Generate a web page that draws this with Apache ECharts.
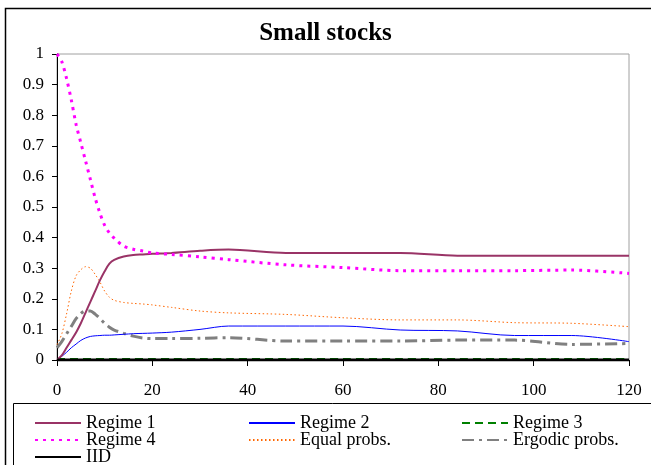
<!DOCTYPE html>
<html><head><meta charset="utf-8">
<script src="https://cdn.jsdelivr.net/npm/echarts@6/dist/echarts.min.js"></script>
<style>html,body{margin:0;padding:0;background:#fff}#c{width:651px;height:465px}</style>
</head><body><div id="c"></div>
<script>
var xs       = [0,1,2,3,4,5,6,7,8,9,10,11,12,14,16,18,20,24,30,36,48,60,72,84,96,108,120];
var regime1  = [0,0.015,0.04,0.065,0.09,0.12,0.155,0.19,0.225,0.26,0.29,0.315,0.327,0.338,0.343,0.345,0.347,0.35,0.357,0.361,0.35,0.35,0.35,0.341,0.341,0.341,0.341];
var regime2  = [0,0.012,0.025,0.04,0.052,0.064,0.072,0.077,0.079,0.08,0.081,0.081,0.082,0.084,0.086,0.087,0.088,0.091,0.1,0.111,0.111,0.111,0.098,0.095,0.08,0.08,0.06];
var regime3  = [0.003,0.003,0.003,0.003,0.003,0.003,0.003,0.003,0.003,0.003,0.003,0.003,0.003,0.003,0.003,0.003,0.003,0.003,0.003,0.003,0.003,0.003,0.003,0.003,0.003,0.003,0.003];
var regime4  = [1.0,0.975,0.92,0.85,0.77,0.71,0.65,0.59,0.53,0.48,0.44,0.415,0.398,0.372,0.362,0.356,0.35,0.345,0.337,0.328,0.311,0.302,0.292,0.292,0.292,0.294,0.283];
var equalP   = [0.05,0.085,0.15,0.225,0.275,0.295,0.305,0.3,0.28,0.255,0.225,0.205,0.195,0.188,0.185,0.183,0.18,0.172,0.16,0.154,0.149,0.138,0.131,0.131,0.122,0.12,0.109];
var ergodicP = [0.04,0.06,0.085,0.11,0.135,0.152,0.16,0.16,0.15,0.136,0.12,0.107,0.098,0.087,0.078,0.072,0.07,0.07,0.071,0.073,0.062,0.062,0.062,0.065,0.065,0.051,0.054];
var iid      = [0,0,0,0,0,0,0,0,0,0,0,0,0,0,0,0,0,0,0,0,0,0,0,0,0,0,0];
var title = 'Small stocks';

function pts(v){ return xs.map(function(x,i){ return [x, v[i]]; }); }
var F = '"Liberation Serif", "DejaVu Serif", serif';
function mk(name, data, color, width, type, z){
  return {name:name, type:'line', data:pts(data), symbol:'none', smooth:0.3, z:z||2,
    lineStyle:{color:color, width:width, type:type}, itemStyle:{color:color}};
}
var series = [
  mk('Regime 1', regime1, '#993366', 2, 'solid', 5),
  mk('Regime 2', regime2, '#0000FF', 1, 'solid', 4),
  mk('Regime 3', regime3, '#008000', 2, [8,5], 3),
  mk('Regime 4', regime4, '#FF00FF', 3, [3,5], 6),
  mk('Equal probs.', equalP, '#FF6600', 1, [1.5,2.5], 3),
  mk('Ergodic probs.', ergodicP, '#808080', 3, [12,5,3,5], 3),
  mk('IID', iid, '#000000', 3, 'solid', 7)
];
var legendCols = [34, 248, 461];
var legendRows = [414, 431, 448];
var legendLayout = [['Regime 1',0,0],['Regime 2',1,0],['Regime 3',2,0],['Regime 4',0,1],['Equal probs.',1,1],['Ergodic probs.',2,1],['IID',0,2]];
var legends = legendLayout.map(function(l){
  return {left:legendCols[l[1]], top:legendRows[l[2]], padding:0, itemWidth:46, itemHeight:14,
    data:[l[0]], selectedMode:false, itemStyle:{opacity:0, borderWidth:0},
    textStyle:{fontFamily:F, fontSize:18, color:'#000', lineHeight:14}};
});
var chart = echarts.init(document.getElementById('c'), null, {renderer:'canvas'});
chart.setOption({
  animation:false,
  title:{text:title, left:'center', top:16, textStyle:{fontFamily:F, fontWeight:'bold', fontSize:25, color:'#000'}},
  grid:{left:57, right:22, top:54, bottom:105, show:true, borderColor:'#A0A0A0', borderWidth:1},
  xAxis:{type:'value', min:0, max:120, interval:20,
    axisLine:{show:true, onZero:false, lineStyle:{color:'#000', width:1}},
    axisTick:{show:true, length:6, lineStyle:{color:'#000'}},
    axisLabel:{fontFamily:F, fontSize:17, color:'#000', margin:22},
    splitLine:{show:false}},
  yAxis:{type:'value', min:0, max:1, interval:0.1,
    axisLine:{show:true, lineStyle:{color:'#000', width:1}},
    axisTick:{show:true, length:5, lineStyle:{color:'#000'}},
    axisLabel:{fontFamily:F, fontSize:17, color:'#000', margin:13},
    splitLine:{show:false}},
  legend:legends,
  graphic:[
    {type:'rect', shape:{x:5.5, y:8.5, width:800, height:600}, style:{fill:null, stroke:'#000', lineWidth:1.5}, silent:true},
    {type:'rect', shape:{x:13.5, y:403.5, width:800, height:200}, style:{fill:null, stroke:'#000', lineWidth:1}, silent:true}
  ],
  series:series
});
</script></body></html>
